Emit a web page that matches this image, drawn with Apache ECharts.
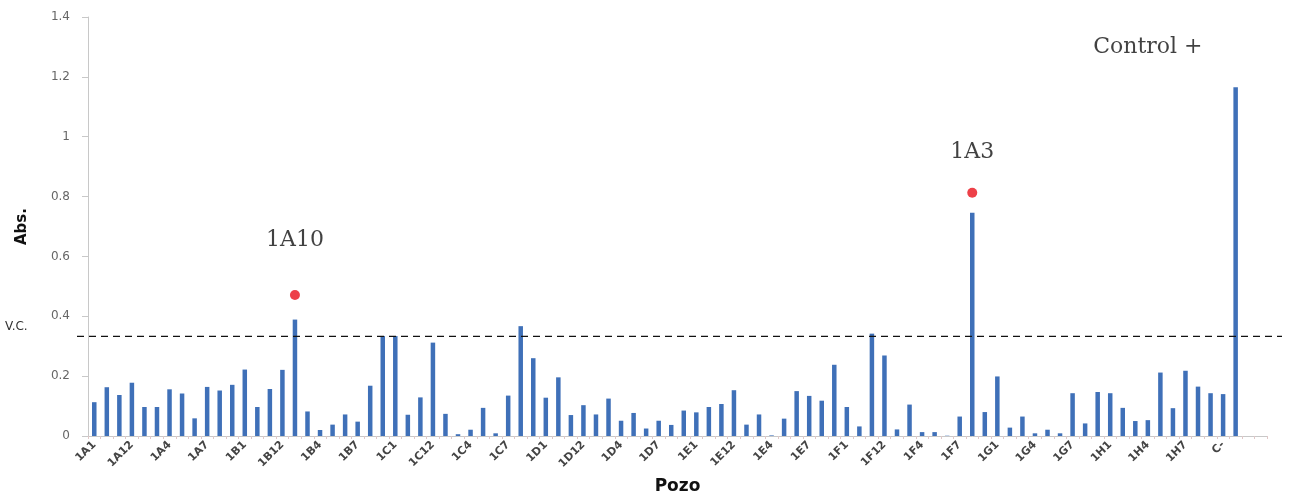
<!DOCTYPE html>
<html>
<head>
<meta charset="utf-8">
<script src="https://cdn.jsdelivr.net/npm/echarts@6/dist/echarts.min.js"></script>
<style>
html,body{margin:0;padding:0;background:#fff;}
#chart{width:1302px;height:500px;}
</style>
</head>
<body>
<div id="chart"></div>
<script>
const categories = [
 '1A1','1A10','1A11','1A12','1A2','1A3','1A4','1A5','1A6','1A7','1A8','1A9',
 '1B1','1B10','1B11','1B12','1B2','1B3','1B4','1B5','1B6','1B7','1B8','1B9',
 '1C1','1C10','1C11','1C12','1C2','1C3','1C4','1C5','1C6','1C7','1C8','1C9',
 '1D1','1D10','1D11','1D12','1D2','1D3','1D4','1D5','1D6','1D7','1D8','1D9',
 '1E1','1E10','1E11','1E12','1E2','1E3','1E4','1E5','1E6','1E7','1E8','1E9',
 '1F1','1F10','1F11','1F12','1F2','1F3','1F4','1F5','1F6','1F7','1F8','1F9',
 '1G1','1G2','1G3','1G4','1G5','1G6','1G7','1G8','1G9',
 '1H1','1H2','1H3','1H4','1H5','1H6','1H7','1H8','1H9',
 'C-','C+','',' '
];
const absValues = [
 0.113,0.163,0.137,0.178,0.097,0.097,0.156,0.142,0.059,0.164,0.152,0.171,
 0.222,0.097,0.157,0.221,0.389,0.082,0.020,0.038,0.072,0.048,0.168,0.334,
 0.334,0.071,0.129,0.312,0.074,0.006,0.021,0.094,0.009,0.135,0.367,0.260,
 0.128,0.196,0.070,0.103,0.072,0.125,0.051,0.077,0.025,0.051,0.037,0.085,
 0.079,0.097,0.107,0.153,0.038,0.072,0.002,0.058,0.150,0.134,0.118,0.238,
 0.097,0.032,0.342,0.269,0.022,0.105,0.013,0.013,0.001,0.065,0.746,0.080,
 0.199,0.028,0.065,0.009,0.021,0.009,0.143,0.042,0.147,0.143,0.094,0.050,
 0.053,0.212,0.093,0.218,0.165,0.143,0.140,1.165
];
const cutoffValue = 0.333;
const cutoffLabel = 'V.C.';
const markedPoints = [[16, 0.471], [70, 0.813]];
const annotations = [
 {text: '1A10', x: 16, y: 0.654},
 {text: '1A3', x: 70, y: 0.949},
 {text: 'Control +', x: 84, y: 1.30}
];
const yTicks = {min: 0, max: 1.4, interval: 0.2};

const chart = echarts.init(document.getElementById('chart'), null, {renderer: 'canvas'});
const option = {
  animation: false,
  backgroundColor: '#ffffff',
  grid: {left: 88, right: 35, top: 17, bottom: 61, containLabel: false},
  xAxis: {
    type: 'category',
    data: categories,
    boundaryGap: true,
    name: 'Pozo',
    nameLocation: 'middle',
    nameGap: 42,
    nameTextStyle: {fontFamily: 'DejaVu Sans', fontWeight: 'bold', fontSize: 17, color: '#111'},
    axisLine: {lineStyle: {color: '#c8c8c8', width: 1}},
    axisTick: {show: true, interval: 0, length: 3, lineStyle: {color: '#e0c8c8'}},
    axisLabel: {
      interval: 2, rotate: 45, fontFamily: 'DejaVu Sans', fontWeight: 'bold',
      fontSize: 11, color: '#444', margin: 7
    },
    splitLine: {show: false}
  },
  yAxis: {
    type: 'value',
    min: yTicks.min, max: yTicks.max, interval: yTicks.interval,
    name: 'Abs.',
    nameLocation: 'middle',
    nameGap: 58,
    nameRotate: 90,
    nameTextStyle: {fontFamily: 'DejaVu Sans', fontWeight: 'bold', fontSize: 15, color: '#111'},
    axisLine: {show: true, lineStyle: {color: '#c8c8c8', width: 1}},
    axisTick: {show: true, length: 6, lineStyle: {color: '#c8c8c8'}},
    axisLabel: {fontFamily: 'DejaVu Sans', fontSize: 12, color: '#666', margin: 18},
    splitLine: {show: false}
  },
  series: [
    {
      type: 'bar',
      data: absValues,
      barWidth: 4.5,
      itemStyle: {color: '#3f70b8'}
    },
    {
      type: 'scatter',
      data: markedPoints,
      symbol: 'circle',
      symbolSize: 10,
      itemStyle: {color: '#e8101a'},
      z: 5
    },
    {
      type: 'scatter',
      data: annotations.map(a => ({value: [a.x, a.y], label: {formatter: a.text}})),
      symbolSize: 0,
      label: {
        show: true, position: 'inside',
        fontFamily: 'DejaVu Serif', fontSize: 22, color: '#111'
      },
      z: 6
    }
  ]
};
chart.setOption(option);

const lineY = chart.convertToPixel({yAxisIndex: 0}, cutoffValue);
chart.setOption({
  graphic: [
    {
      type: 'line',
      shape: {x1: 77, y1: lineY, x2: 1282, y2: lineY},
      style: {stroke: '#111', lineWidth: 1.3, lineDash: [7, 5]},
      z: 10
    },
    {
      type: 'text',
      x: 5, y: lineY - 3,
      style: {text: cutoffLabel, font: '12px "DejaVu Sans"', fill: '#333', textVerticalAlign: 'bottom'},
      z: 10
    }
  ]
});
</script>
</body>
</html>
